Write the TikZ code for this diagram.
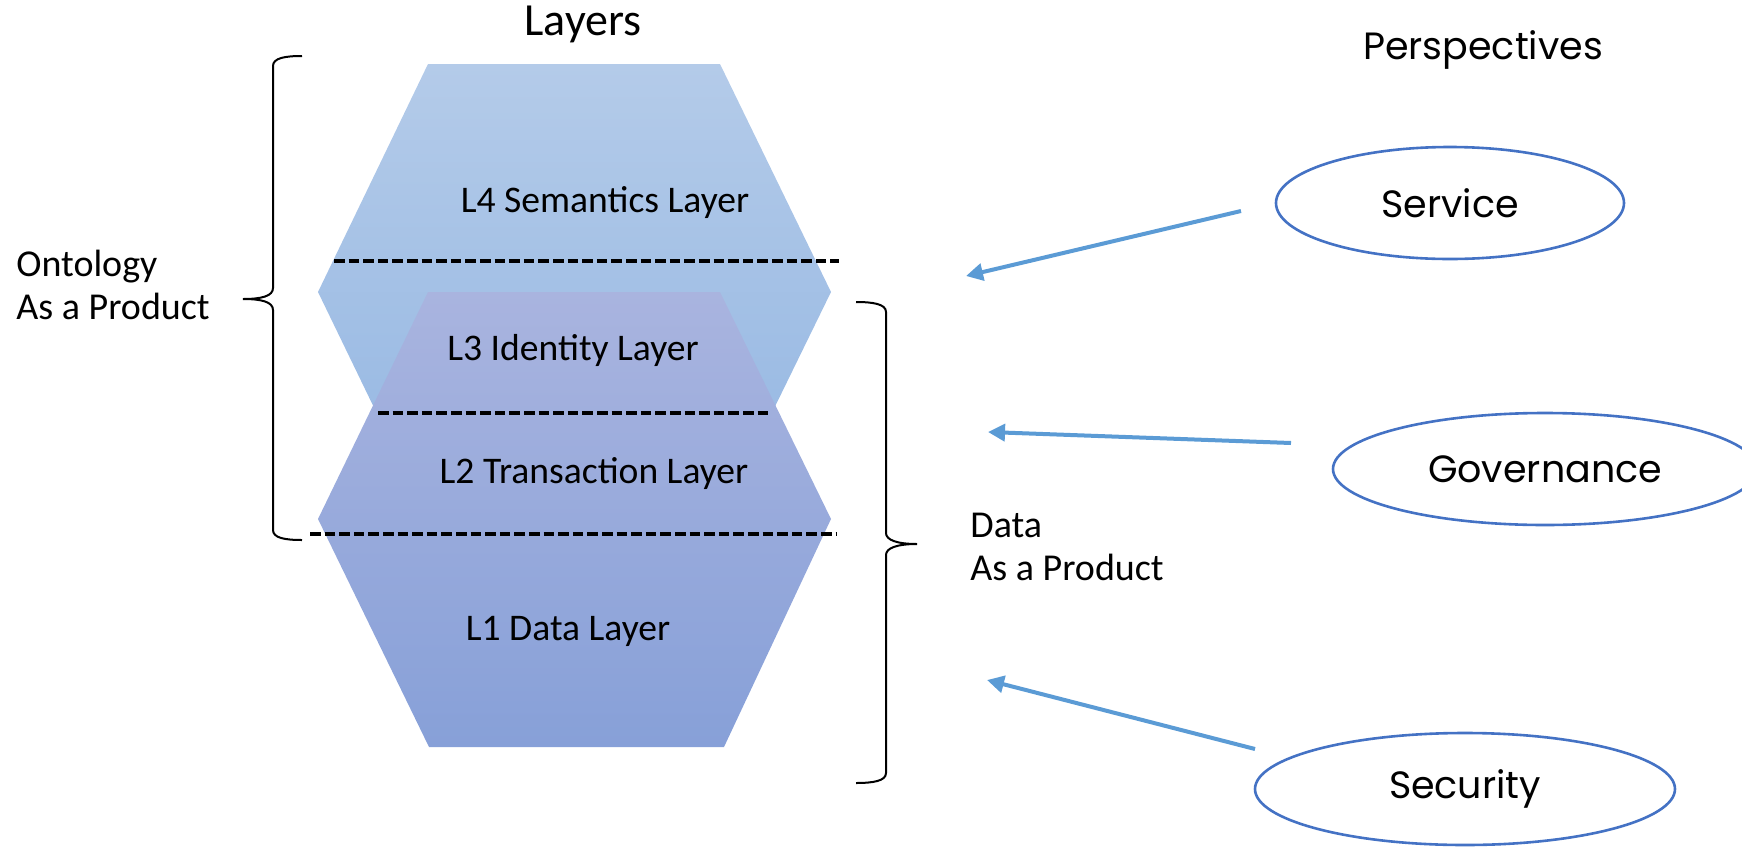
\documentclass[tikz,border=0pt]{standalone}
\usepackage{fontspec}
\setmainfont{Carlito}
\newfontfamily\gothic{Poppins}
\usetikzlibrary{arrows.meta,shapes.geometric}

\definecolor{hexfourtop}{HTML}{B4CBE9}
\definecolor{hexfourbot}{HTML}{93B6E2}
\definecolor{hexonetop}{HTML}{A9B4DF}
\definecolor{hexonebot}{HTML}{87A0D8}
\definecolor{persline}{HTML}{4472C4}
\definecolor{arrline}{HTML}{5B9BD5}

\begin{document}
\begin{tikzpicture}[x=0.5pt,y=-0.5pt,
  layertext/.style={font=\fontsize{18.8}{22}\selectfont},
  sidetext/.style={font=\fontsize{19}{21.5}\selectfont,align=left,anchor=west,inner sep=0pt},
  titletext/.style={font=\fontsize{23}{27}\selectfont},
  persp/.style={ellipse,draw=persline,line width=1.3pt,minimum height=56pt,
    font=\gothic\fontsize{19}{23}\selectfont},
  perarrow/.style={draw=arrline,line width=2pt,-{Triangle[length=8.5pt,width=8.5pt]}},
  cutline/.style={line width=2pt,dash pattern=on 5.3pt off 2pt},
  brc/.style={line width=1pt}]
\useasboundingbox (0,0) rectangle (1742,852);
\clip (0,0) rectangle (1742,852);

% upper hexagon (L4)
\shade[top color=hexfourtop,bottom color=hexfourbot]
  (428,64)--(720,64)--(831,292)--(720,519)--(428,519)--(318,292)--cycle;
% lower hexagon (L1-L3)
\shade[top color=hexonetop,bottom color=hexonebot]
  (428,292)--(720,292)--(831,519)--(724,747)--(429,747)--(318,519)--cycle;

% dashed separators
\draw[cutline] (334,261)--(839,261);
\draw[cutline] (378,413)--(772,413);
\draw[cutline] (310,534)--(837,534);

% layer labels
\node[layertext] (lfour) at (605,203) {L4 Semantics Layer};
\node[layertext] (lthree) at (573,350) {L3 Identity Layer};
\node[layertext] (ltwo) at (594,474) {L2 Transaction Layer};
\node[layertext] (lone) at (568,631) {L1 Data Layer};

% titles
\node[titletext] (layers) at (583,24) {Layers};
\node[font=\gothic\fontsize{19}{23}\selectfont] (perspectives) at (1483,50) {Perspectives};

% braces
\draw[brc] (302,56) .. controls (285,56) and (273,58) .. (273,66) -- (273,288)
  .. controls (273,296) and (262,299) .. (243,299)
  .. controls (262,299) and (273,302) .. (273,310) -- (273,530)
  .. controls (273,538) and (285,540) .. (302,540);
\draw[brc] (856,302) .. controls (873,302) and (886,304) .. (886,312) -- (886,533)
  .. controls (886,540) and (897,544) .. (917,544)
  .. controls (897,544) and (886,548) .. (886,555) -- (886,773)
  .. controls (886,781) and (873,783) .. (856,783);

\node[sidetext] (ontology) at (16,285) {Ontology\\As a Product};
\node[sidetext] (dataprod) at (970,547) {Data\\As a Product};

% perspectives
\node[persp,minimum width=174pt] (service) at (1450,203) {Service};
\node[persp,minimum width=212pt] (governance) at (1545,469) {Governance};
\node[persp,minimum width=210pt] (security) at (1465,789) {Security};

\coordinate (srvfrom) at (1241,211);
\coordinate (srvto) at (966,276);
\coordinate (govfrom) at (1291,443);
\coordinate (govto) at (988,432);
\coordinate (secfrom) at (1255,749);
\coordinate (secto) at (987,680);
\draw[perarrow] (srvfrom) -- (srvto);
\draw[perarrow] (govfrom) -- (govto);
\draw[perarrow] (secfrom) -- (secto);
\end{tikzpicture}
\end{document}
